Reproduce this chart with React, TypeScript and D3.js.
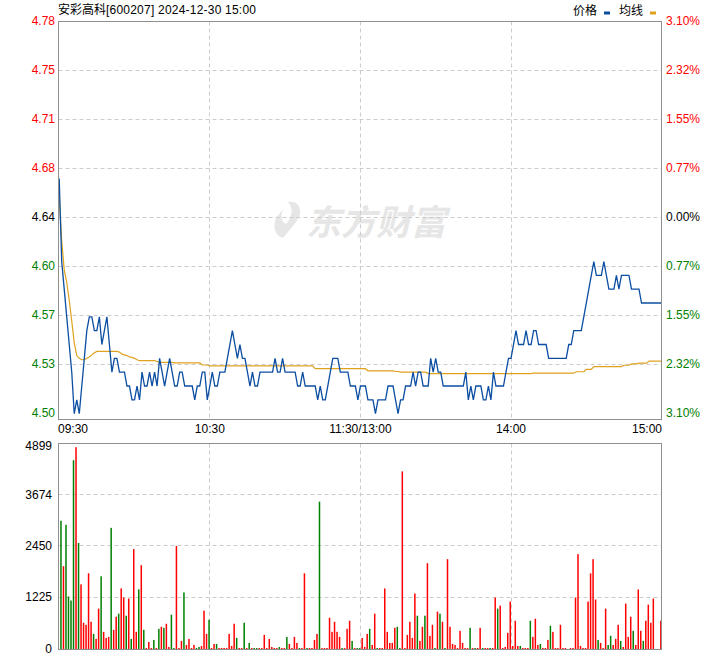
import React from 'react';
import * as d3 from 'd3';

const TITLE_NAME = '安彩高科';
const TITLE_REST = '[600207] 2024-12-30 15:00';
const PRE_CLOSE = 4.64;
const LIMIT = 0.031;
const timeLabels = ['09:30', '10:30', '11:30/13:00', '14:00', '15:00'];
const timeTickIdx = [0, 60, 120, 180, 240];
const priceLabels = ['4.78', '4.75', '4.71', '4.68', '4.64', '4.60', '4.57', '4.53', '4.50'];
const pctLabels = ['3.10%', '2.32%', '1.55%', '0.77%', '0.00%', '0.77%', '1.55%', '2.32%', '3.10%'];
const volTicks = [4899, 3674, 2450, 1225, 0];

// minute prices 09:30 .. 15:00 (241 points)
const prices = [
  4.67, 4.61, 4.59, 4.57, 4.55, 4.53, 4.50, 4.51, 4.50, 4.52,
  4.54, 4.56, 4.57, 4.57, 4.56, 4.56, 4.57, 4.55, 4.56, 4.57,
  4.55, 4.53, 4.54, 4.54, 4.53, 4.53, 4.53, 4.52, 4.52, 4.51,
  4.51, 4.52, 4.51, 4.53, 4.52, 4.52, 4.53, 4.52, 4.53, 4.52,
  4.54, 4.53, 4.52, 4.53, 4.54, 4.53, 4.52, 4.52, 4.53, 4.53,
  4.52, 4.52, 4.52, 4.52, 4.51, 4.52, 4.52, 4.53, 4.53, 4.51,
  4.52, 4.53, 4.52, 4.52, 4.53, 4.53, 4.53, 4.54, 4.55, 4.56,
  4.55, 4.54, 4.55, 4.54, 4.54, 4.53, 4.52, 4.53, 4.52, 4.52,
  4.53, 4.53, 4.53, 4.53, 4.53, 4.53, 4.54, 4.53, 4.53, 4.54,
  4.53, 4.53, 4.53, 4.53, 4.53, 4.52, 4.52, 4.53, 4.52, 4.52,
  4.52, 4.52, 4.52, 4.51, 4.52, 4.51, 4.51, 4.52, 4.53, 4.54,
  4.54, 4.54, 4.53, 4.53, 4.53, 4.53, 4.52, 4.52, 4.52, 4.51,
  4.52, 4.52, 4.52, 4.51, 4.51, 4.51, 4.50, 4.51, 4.51, 4.51,
  4.51, 4.52, 4.52, 4.52, 4.51, 4.50, 4.51, 4.51, 4.52, 4.52,
  4.52, 4.53, 4.52, 4.53, 4.53, 4.52, 4.52, 4.52, 4.54, 4.53,
  4.54, 4.53, 4.53, 4.52, 4.52, 4.52, 4.52, 4.52, 4.52, 4.52,
  4.52, 4.52, 4.53, 4.51, 4.52, 4.51, 4.52, 4.52, 4.52, 4.51,
  4.51, 4.52, 4.51, 4.53, 4.52, 4.52, 4.52, 4.52, 4.53, 4.54,
  4.54, 4.55, 4.56, 4.55, 4.55, 4.55, 4.56, 4.55, 4.55, 4.56,
  4.56, 4.55, 4.55, 4.55, 4.55, 4.54, 4.54, 4.54, 4.54, 4.54,
  4.54, 4.54, 4.54, 4.55, 4.55, 4.56, 4.56, 4.56, 4.56, 4.57,
  4.58, 4.59, 4.60, 4.61, 4.60, 4.60, 4.60, 4.61, 4.60, 4.59,
  4.59, 4.59, 4.60, 4.59, 4.60, 4.60, 4.60, 4.60, 4.59, 4.59,
  4.59, 4.59, 4.58, 4.58, 4.58, 4.58, 4.58, 4.58, 4.58, 4.58,
  4.58,
];

// average price line (241 points)
const avgPrices = [
  4.657, 4.625, 4.604, 4.595, 4.582, 4.567, 4.551, 4.542, 4.540, 4.539,
  4.539, 4.540, 4.541, 4.5425, 4.544, 4.545, 4.545, 4.545, 4.545, 4.545,
  4.545, 4.545, 4.545, 4.545, 4.5445, 4.543, 4.5425, 4.542, 4.541, 4.5407,
  4.540, 4.539, 4.5383, 4.5383, 4.5383, 4.5383, 4.5383, 4.5383, 4.5383, 4.5377,
  4.5371, 4.5371, 4.5371, 4.5371, 4.5371, 4.5371, 4.5367, 4.5367, 4.5367, 4.5367,
  4.5367, 4.5367, 4.5367, 4.5367, 4.5367, 4.5367, 4.5367, 4.5352, 4.5352, 4.5352,
  4.5345, 4.5345, 4.5345, 4.5345, 4.5345, 4.5345, 4.5345, 4.5345, 4.5345, 4.5345,
  4.5345, 4.5345, 4.5345, 4.5345, 4.5345, 4.5345, 4.5345, 4.5345, 4.5345, 4.5345,
  4.5345, 4.5345, 4.5345, 4.5345, 4.5345, 4.5345, 4.5345, 4.5345, 4.5345, 4.5345,
  4.5345, 4.5345, 4.5345, 4.5345, 4.5345, 4.5345, 4.5345, 4.5345, 4.5345, 4.5345,
  4.5345, 4.5345, 4.5325, 4.5325, 4.5325, 4.5325, 4.5325, 4.5325, 4.5325, 4.5325,
  4.5325, 4.5325, 4.5325, 4.5325, 4.5325, 4.5325, 4.5325, 4.5325, 4.5325, 4.5325,
  4.5325, 4.5325, 4.5325, 4.531, 4.531, 4.531, 4.531, 4.531, 4.531, 4.531,
  4.531, 4.531, 4.531, 4.531, 4.5305, 4.5305, 4.530, 4.530, 4.530, 4.530,
  4.530, 4.530, 4.530, 4.530, 4.530, 4.530, 4.530, 4.529, 4.529, 4.529,
  4.529, 4.529, 4.529, 4.529, 4.529, 4.529, 4.529, 4.529, 4.529, 4.529,
  4.529, 4.529, 4.529, 4.529, 4.529, 4.529, 4.529, 4.529, 4.529, 4.529,
  4.529, 4.529, 4.529, 4.529, 4.529, 4.529, 4.529, 4.529, 4.529, 4.529,
  4.529, 4.529, 4.529, 4.529, 4.529, 4.529, 4.529, 4.529, 4.529, 4.5293,
  4.5293, 4.5293, 4.5293, 4.5293, 4.5293, 4.5293, 4.5293, 4.5293, 4.5293, 4.5293,
  4.5293, 4.5293, 4.5293, 4.5293, 4.5293, 4.5293, 4.5303, 4.5303, 4.5303, 4.5303,
  4.532, 4.532, 4.532, 4.534, 4.534, 4.534, 4.534, 4.534, 4.534, 4.534,
  4.534, 4.534, 4.534, 4.534, 4.534, 4.535, 4.535, 4.535, 4.536, 4.536,
  4.536, 4.5365, 4.5365, 4.5365, 4.5365, 4.538, 4.538, 4.538, 4.538, 4.538,
  4.538,
];

// minute volumes 09:31 .. 15:00 (240 bars)
const volumes = [
  3049, 1969, 2953, 1249, 1153, 4490, 4800, 2521, 1537, 624,
  576, 1801, 648, 360, 240, 960, 1729, 408, 264, 288,
  2881, 456, 768, 840, 1441, 1224, 792, 1200, 240, 2377,
  408, 1417, 1993, 456, 24, 168, 24, 216, 24, 480,
  528, 504, 600, 48, 816, 24, 2449, 24, 192, 1345,
  96, 240, 24, 96, 24, 48, 72, 912, 360, 696,
  24, 120, 120, 24, 24, 24, 24, 360, 72, 600,
  264, 24, 24, 624, 24, 144, 24, 24, 24, 24,
  24, 336, 24, 240, 48, 24, 24, 48, 24, 24,
  288, 120, 24, 288, 144, 24, 24, 1800, 24, 24,
  24, 216, 360, 3504, 24, 24, 24, 744, 408, 648,
  408, 288, 24, 24, 480, 672, 192, 24, 24, 24,
  264, 48, 360, 480, 96, 840, 24, 24, 24, 1440,
  408, 144, 144, 504, 528, 24, 4224, 24, 336, 648,
  264, 1320, 792, 192, 528, 792, 2040, 312, 576, 24,
  888, 840, 648, 24, 2136, 528, 120, 96, 24, 432,
  144, 24, 24, 504, 24, 24, 24, 504, 24, 24,
  24, 24, 24, 1224, 960, 1032, 24, 48, 384, 1128,
  72, 672, 72, 72, 24, 24, 24, 672, 288, 720,
  96, 120, 24, 24, 216, 552, 408, 24, 24, 576,
  24, 24, 0, 24, 24, 1224, 2256, 72, 24, 24,
  1128, 1800, 2136, 1176, 216, 144, 24, 960, 96, 312,
  96, 240, 576, 192, 48, 1080, 288, 768, 432, 96,
  1416, 432, 192, 672, 1056, 624, 1200, 0, 0, 672,
];

// 1 = red (up tick), 0 = green (down tick)
const volUp = [
  0, 1, 0, 0, 0, 0, 1, 0, 1, 1,
  1, 1, 1, 0, 1, 1, 0, 1, 1, 1,
  0, 1, 1, 0, 1, 1, 0, 1, 0, 1,
  1, 0, 1, 0, 1, 1, 1, 0, 1, 0,
  1, 0, 1, 1, 0, 0, 1, 1, 1, 0,
  1, 1, 1, 1, 0, 0, 1, 1, 1, 0,
  1, 1, 0, 1, 1, 1, 1, 1, 1, 1,
  0, 1, 1, 0, 1, 0, 1, 0, 0, 1,
  1, 1, 1, 1, 1, 1, 1, 0, 1, 1,
  0, 1, 1, 1, 1, 0, 1, 1, 0, 1,
  1, 1, 1, 0, 1, 1, 1, 1, 1, 1,
  1, 1, 0, 1, 1, 1, 0, 1, 0, 0,
  1, 1, 1, 0, 1, 1, 0, 1, 1, 1,
  1, 1, 1, 1, 0, 0, 1, 1, 1, 1,
  1, 1, 0, 1, 1, 0, 1, 1, 1, 0,
  1, 0, 1, 0, 1, 1, 1, 1, 1, 1,
  1, 1, 1, 0, 1, 0, 1, 1, 0, 1,
  1, 0, 1, 1, 0, 1, 1, 1, 1, 1,
  1, 1, 1, 0, 1, 1, 1, 0, 1, 1,
  1, 0, 1, 1, 1, 0, 1, 1, 1, 1,
  1, 1, 1, 1, 1, 1, 1, 1, 1, 1,
  1, 1, 1, 1, 0, 1, 1, 1, 0, 0,
  1, 1, 1, 0, 1, 1, 1, 1, 0, 1,
  1, 1, 0, 1, 1, 1, 1, 1, 1, 1,
];

const LATIN = "'Liberation Sans', Arial, sans-serif";
const CJK = "'Noto Sans CJK SC', 'Liberation Sans', sans-serif";
const RED = '#ff0000';
const GREEN = '#008000';
const GRID = '#cccccc';
const FRAME = '#8f8f8f';
const BLUE = '#0b4ea2';
const ORANGE = '#dfa21e';

export default function App() {
  const L = 58.5, R = 661.5;
  const PT = 21.5, PB = 419.5;
  const VT = 443.5, VB = 649.5;

  const x = d3.scaleLinear().domain([0, 240]).range([59.2, 661.6]);
  const y = d3
    .scaleLinear()
    .domain([PRE_CLOSE * (1 - LIMIT), PRE_CLOSE * (1 + LIMIT)])
    .range([419, 21]);
  const gridY = d3.scaleLinear().domain([0, 8]).range([21.3, 413.3]);
  const vy = d3.scaleLinear().domain([0, 4899]).range([649, 443]);

  const priceLine = d3
    .line<number>()
    .x((_, i) => x(i))
    .y((d) => y(d));

  const labelColor = (k: number) => (k < 4 ? RED : k > 4 ? GREEN : '#000');
  const crisp = (v: number) => Math.floor(v) + 0.5;

  return (
    <div style={{ position: 'absolute', left: 0, top: 0 }}>
      <svg width={720} height={655} style={{ display: 'block', background: '#fff' }}>
        {/* watermark */}
        <g>
          <path
            d="M288 202 C300 200 304 212 296 222 L283 238 C276 236 272 228 276 218 L284 208 C280 214 281 222 286 224 C292 218 294 208 288 202 Z"
            fill="#e6e6e6"
          />
          <text
            x={306}
            y={235}
            fontFamily={CJK}
            fontSize={35}
            fontWeight={700}
            fill="#e6e6e6"
            fontStyle="italic"
          >
            东方财富
          </text>
        </g>

        {/* title */}
        <text x={58} y={14} fontFamily={CJK} fontSize={12} fill="#000">
          {TITLE_NAME}
        </text>
        <text x={106} y={14} fontFamily={LATIN} fontSize={12} fill="#000" textLength={150} lengthAdjust="spacing">
          {TITLE_REST}
        </text>

        {/* legend */}
        <text x={573} y={14.5} fontFamily={CJK} fontSize={12} fill="#000">价格</text>
        <rect x={604} y={11.5} width={6} height={3} fill={BLUE} />
        <text x={619} y={14.5} fontFamily={CJK} fontSize={12} fill="#000">均线</text>
        <rect x={650} y={11.5} width={6} height={3} fill={ORANGE} />

        {/* price grid */}
        {d3.range(1, 8).map((k) => (
          <line key={'hg' + k} x1={L} x2={R} y1={crisp(gridY(k))} y2={crisp(gridY(k))} stroke={GRID} strokeDasharray="4 3" />
        ))}
        {timeTickIdx.slice(1, 4).map((t) => (
          <line key={'vg' + t} x1={crisp(x(t))} x2={crisp(x(t))} y1={PT} y2={PB} stroke={GRID} strokeDasharray="4 3" />
        ))}

        {/* volume grid */}
        {volTicks.slice(1, 4).map((v) => (
          <line key={'vhg' + v} x1={L} x2={R} y1={crisp(vy(v))} y2={crisp(vy(v))} stroke={GRID} strokeDasharray="4 3" />
        ))}
        {timeTickIdx.slice(1, 4).map((t) => (
          <line key={'vvg' + t} x1={crisp(x(t))} x2={crisp(x(t))} y1={VT} y2={VB} stroke={GRID} strokeDasharray="4 3" />
        ))}

        {/* lines */}
        <path d={priceLine(avgPrices) || ''} fill="none" stroke={ORANGE} strokeWidth={1.2} />
        <path d={priceLine(prices) || ''} fill="none" stroke={BLUE} strokeWidth={1.3} />

        {/* volume bars */}
        {volumes.map((v, i) => (
          <rect
            key={'b' + i}
            x={x(i + 1) - 1.5}
            y={vy(v)}
            width={1.5}
            height={Math.max(0, 649 - vy(v))}
            fill={volUp[i] ? RED : GREEN}
          />
        ))}

        {/* frames */}
        <rect x={L} y={PT} width={R - L} height={PB - PT} fill="none" stroke={FRAME} />
        <rect x={L} y={VT} width={R - L} height={VB - VT} fill="none" stroke={FRAME} />

        {/* left price labels */}
        {priceLabels.map((s, k) => (
          <text
            key={'pl' + k}
            x={55}
            y={gridY(k)}
            textAnchor="end"
            dominantBaseline="central"
            fontFamily={LATIN}
            fontSize={12}
            fill={labelColor(k)}
          >
            {s}
          </text>
        ))}
        {/* right pct labels */}
        {pctLabels.map((s, k) => (
          <text
            key={'pr' + k}
            x={666}
            y={gridY(k)}
            dominantBaseline="central"
            fontFamily={LATIN}
            fontSize={12}
            fill={labelColor(k)}
          >
            {s}
          </text>
        ))}

        {/* time labels */}
        {timeLabels.map((s, k) => (
          <text
            key={'tl' + k}
            x={k === 0 ? 58 : k === 4 ? 662 : x(timeTickIdx[k])}
            y={433}
            textAnchor={k === 0 ? 'start' : k === 4 ? 'end' : 'middle'}
            fontFamily={LATIN}
            fontSize={12}
            fill="#000"
          >
            {s}
          </text>
        ))}

        {/* volume labels */}
        {volTicks.map((v, k) => (
          <text
            key={'vl' + k}
            x={52}
            y={vy(v) + (k === 0 ? 3 : 0)}
            textAnchor="end"
            dominantBaseline="central"
            fontFamily={LATIN}
            fontSize={12}
            fill="#000"
          >
            {String(v)}
          </text>
        ))}
      </svg>
    </div>
  );
}
